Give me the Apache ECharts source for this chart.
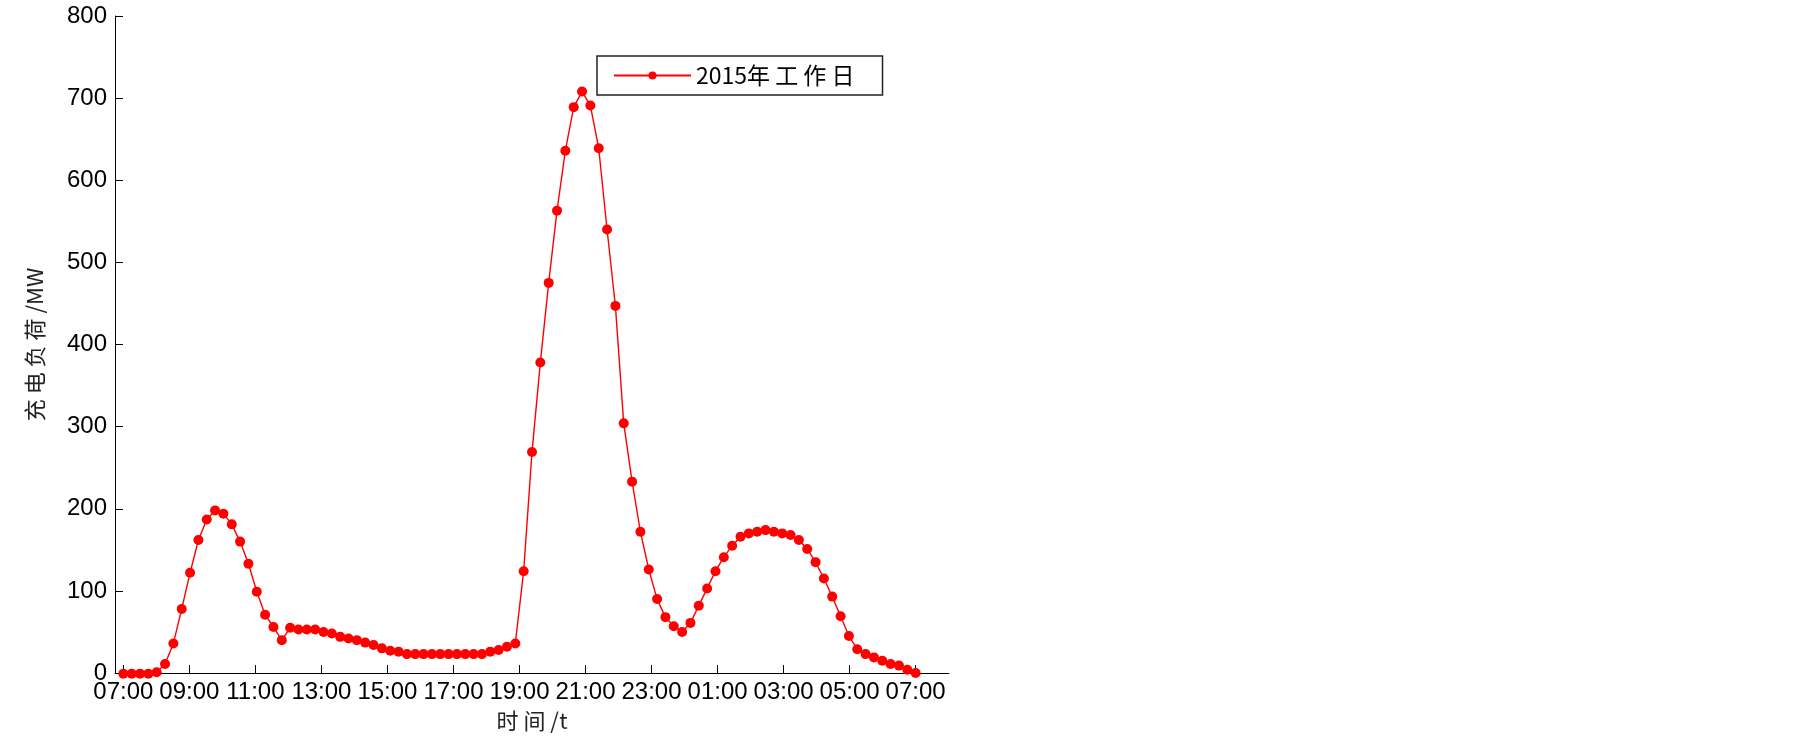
<!DOCTYPE html>
<html>
<head>
<meta charset="utf-8">
<title>充电负荷</title>
<script src="https://cdn.jsdelivr.net/npm/echarts@6/dist/echarts.min.js"></script>
<style>
  html, body { margin: 0; padding: 0; background: #fff; }
  #main { width: 1805px; height: 739px; }
</style>
</head>
<body>
<div id="main"></div>
<script>
// 横轴刻度标签
const timeLabels = ['07:00', '09:00', '11:00', '13:00', '15:00', '17:00', '19:00',
  '21:00', '23:00', '01:00', '03:00', '05:00', '07:00']
// 96 个采样点(每 15 分钟), 单位 MW
const loadMW = [
  -1, -1, -1, -1, 1, 11, 36, 78, 122, 162, 187, 198, 194, 181, 160, 133, 99, 71, 56, 40,
  55, 53, 53, 53, 50, 48, 44, 42, 40, 37, 34, 30, 27, 26, 23, 23, 23, 23, 23, 23,
  23, 23, 23, 23, 26, 28, 32, 36, 124, 269, 378, 475, 563, 636, 689, 708, 691, 639, 540, 447,
  304, 233, 172, 126, 90, 68, 57, 50, 61, 82, 103, 124, 141, 155, 166, 170, 172, 174, 172, 170,
  168, 162, 151, 135, 115, 93, 69, 45, 29, 23, 19, 15, 11, 9, 4, 0
]
const yTicks = [0, 100, 200, 300, 400, 500, 600, 700, 800]
const seriesName = '2015年 工 作 日'

// 点位于 1..96, 刻度均分在第 1 点与第 96 点之间
const n = loadMW.length
const tickPos = timeLabels.map((t, k) => 1 + (n - 1) * k / (timeLabels.length - 1))
const points = loadMW.map((v, i) => [i + 1, v])

const chart = echarts.init(document.getElementById('main'))
const font = "'Liberation Sans', Arial, sans-serif"
const cjk = "'Noto Sans CJK SC', 'Liberation Sans', sans-serif"

chart.setOption({
  animation: false,
  grid: { left: 115, top: 16, right: 856, bottom: 66 },
  legend: {
    left: 597,
    top: 56,
    padding: [8, 28, 8, 16],
    borderColor: '#222',
    borderWidth: 1.5,
    itemWidth: 77,
    itemHeight: 10,
    textStyle: { fontFamily: cjk, fontSize: 23, color: '#000' },
    data: [seriesName]
  },
  xAxis: {
    type: 'value',
    min: 0,
    max: 100,
    name: '时 间 /t',
    nameLocation: 'middle',
    nameGap: 37,
    nameTextStyle: { fontFamily: cjk, fontSize: 22, color: '#222' },
    axisLine: { lineStyle: { color: '#000', width: 1 } },
    axisTick: {
      inside: true,
      length: 8,
      customValues: tickPos,
      lineStyle: { color: '#000' }
    },
    axisLabel: {
      customValues: tickPos,
      margin: 7,
      fontFamily: font,
      fontSize: 24,
      color: '#000',
      formatter: (val) => {
        const k = tickPos.findIndex(p => Math.abs(p - val) < 1e-6)
        return k >= 0 ? timeLabels[k] : ''
      }
    },
    splitLine: { show: false }
  },
  yAxis: {
    type: 'value',
    min: yTicks[0],
    max: yTicks[yTicks.length - 1],
    interval: 100,
    name: '充 电 负 荷 /MW',
    nameLocation: 'middle',
    nameGap: 69,
    nameTextStyle: { fontFamily: cjk, fontSize: 22, color: '#222' },
    axisLine: { show: true, lineStyle: { color: '#000', width: 1 } },
    axisTick: { show: true, inside: true, length: 8, lineStyle: { color: '#000' } },
    axisLabel: { margin: 8, fontFamily: font, fontSize: 24, color: '#000' },
    splitLine: { show: false }
  },
  series: [
    {
      name: seriesName,
      type: 'line',
      data: points,
      clip: false,
      symbol: 'circle',
      symbolSize: 10,
      showAllSymbol: true,
      itemStyle: { color: '#ff0000' },
      lineStyle: { color: '#ff0000', width: 1.4 }
    }
  ]
})
</script>
</body>
</html>
